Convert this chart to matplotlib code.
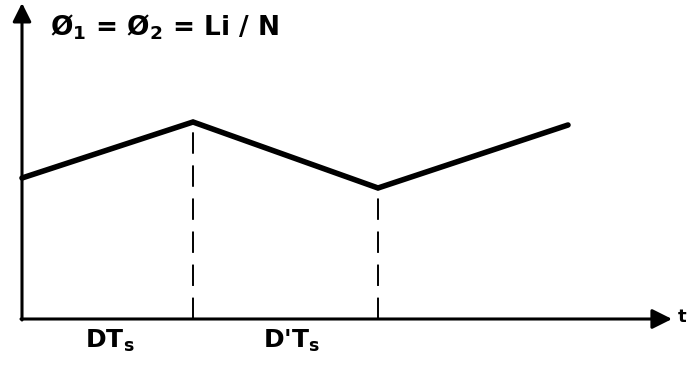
import numpy as np
import matplotlib.pyplot as plt

# flux waveform (arbitrary units, origin at axes corner)
t_pts = [0, 171, 356, 546]          # 0, DTs, Ts, Ts + DTs
flux = [141, 197, 131, 194]
switch_t = [171, 356]               # dashed markers at DTs and Ts
period_labels = ["DT$_\\mathregular{s}$", "D'T$_\\mathregular{s}$"]
label_t = [88, 270]
title = "Ø$_\\mathregular{1}$ = Ø$_\\mathregular{2}$ = Li / N"

fig = plt.figure(figsize=(6.89, 3.76), dpi=100)
ax = fig.add_axes([0, 0, 1, 1])
ax.set_xlim(-22, 667)
ax.set_ylim(-57, 319)
ax.axis("off")

# axes with arrow heads
ax.annotate("", xy=(650, 0), xytext=(-1, 0),
            arrowprops=dict(arrowstyle="-|>", lw=2.2, color="black",
                            mutation_scale=30, shrinkA=0, shrinkB=0))
ax.annotate("", xy=(0, 316), xytext=(0, -1),
            arrowprops=dict(arrowstyle="-|>", lw=2.2, color="black",
                            mutation_scale=28, shrinkA=0, shrinkB=0))

# waveform
ax.plot(t_pts, flux, color="black", lw=4, solid_joinstyle="miter",
        solid_capstyle="round")

# dashed switching instants
for ts in switch_t:
    y_top = np.interp(ts, t_pts, flux)
    ax.plot([ts, ts], [0, y_top], color="black", lw=1.4, dashes=(11, 6))

ax.text(28, 292, title, fontsize=19, fontweight="bold", va="center", ha="left")
for x, lab in zip(label_t, period_labels):
    ax.text(x, -22, lab, fontsize=18, fontweight="bold", ha="center", va="center")
ax.text(656, 2, "t", fontsize=13, fontweight="bold", ha="left", va="center")

fig.savefig("out.png", dpi=100)
